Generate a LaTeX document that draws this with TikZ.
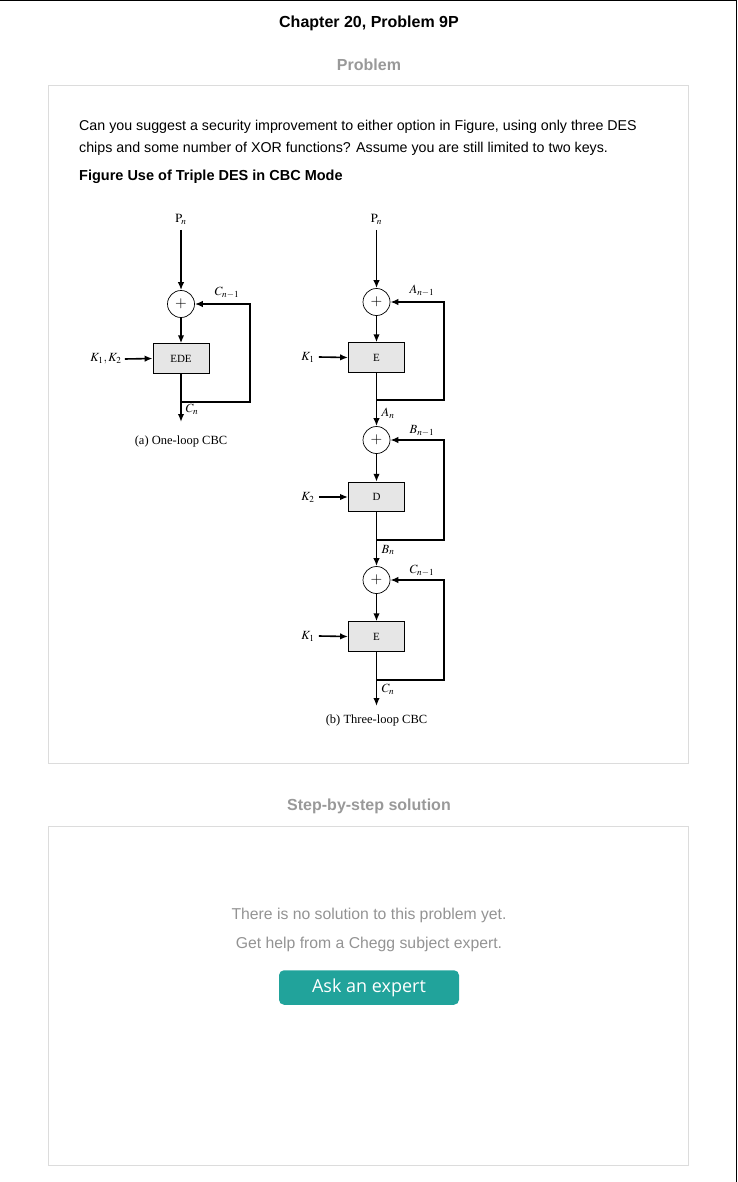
\documentclass[tikz,border=0pt]{standalone}
\usepackage{mathptmx}
\usepackage[no-math]{fontspec}
\setmainfont{Liberation Sans}
\newfontfamily\serifface{Liberation Serif}
\newfontfamily\btnface{Open Sans}
\usetikzlibrary{arrows.meta}
\definecolor{hdgray}{HTML}{999999}
\definecolor{txtgray}{HTML}{939393}
\definecolor{panelline}{HTML}{DCDCDC}
\definecolor{btnteal}{HTML}{21A39B}
\definecolor{chipfill}{HTML}{E6E6E6}
\tikzset{
  chip/.style={draw=black, line width=0.9pt, fill=chipfill, minimum width=56, minimum height=29.5, inner sep=0, font=\serifface\fontsize{11}{12}\selectfont},
  xorgate/.style={circle, draw=black, line width=0.7pt, fill=white, minimum size=27, inner sep=0, font=\fontsize{15}{15}\selectfont},
  wire/.style={line width=1.6pt, line join=miter},
  arr/.style={wire, -{Latex[length=8pt,width=6.5pt]}},
  lbl/.style={inner sep=0, font=\fontsize{12.5}{14}\selectfont},
  figcaption/.style={inner sep=0, font=\serifface\fontsize{12.5}{14}\selectfont},
  panel/.style={draw=panelline, line width=1pt},
  heading/.style={inner sep=0, text=hdgray, font=\bfseries\fontsize{16}{18}\selectfont},
  bodytext/.style={inner sep=0, anchor=west, font=\fontsize{14.25}{16}\selectfont},
  graytext/.style={inner sep=0, text=txtgray, font=\fontsize{15.75}{18}\selectfont}
}
\begin{document}
\begin{tikzpicture}[x=1pt,y=-1pt]
\useasboundingbox (0,0) rectangle (738,1182);
% page frame (top and right)
\draw[line width=1.5pt] (0,0.75) -- (736.5,0.75) -- (736.5,1182);
% headings
\node[inner sep=0, font=\bfseries\fontsize{16}{18}\selectfont] (title) at (369,23.5) {Chapter 20, Problem 9P};
\node[heading] (probhd) at (369,65) {Problem};
\draw[panel] (48.5,85.5) rectangle (688.5,763.5);
\node[bodytext] (l1) at (79,126.5) {Can you suggest a security improvement to either option in Figure, using only three DES};
\node[bodytext] (l2) at (79,148.5) {chips and some number of XOR functions? Assume you are still limited to two keys.};
\node[bodytext, font=\bfseries\fontsize{14.5}{16}\selectfont] (figt) at (79,177) {Figure Use of Triple DES in CBC Mode};

% ---------- (a) one-loop CBC ----------
\node[lbl] (pa) at (181,219) {$\mathrm{P}_{\!n}$};
\node[xorgate] (xa) at (181,304) {$+$};
\node[chip] (ede) at (181,358.5) {EDE};
\node[lbl] (ka) at (106,359) {$K_1, K_2$};
\coordinate (pas) at (181,230);
\coordinate (ba) at (181,402);
\coordinate (ea) at (181,422);
\coordinate (ra1) at (250,402);
\coordinate (ra2) at (250,304);
\draw[arr] (pas) -- (xa.north);
\draw[arr] (xa.south) -- (ede.north);
\draw[arr] (ka.east) ++(3,0) -- (ede.west);
\draw[arr] (ede.south) -- (ea);
\draw[arr] (ba) -- (ra1) -- (ra2) -- (xa.east);
\node[lbl] (cna1) at (227,293) {$C_{n-1}$};
\node[lbl] (cna) at (192,409) {$C_n$};
\node[figcaption] (capa) at (181,441) {(a) One-loop CBC};

% ---------- (b) three-loop CBC ----------
\node[lbl] (pb) at (376.5,219) {$\mathrm{P}_{\!n}$};
\coordinate (pbs) at (376.5,230);
\node[xorgate] (x1) at (376.5,302) {$+$};
\node[chip] (e1) at (376.5,357.5) {E};
\node[lbl] (k1) at (308,357) {$K_1$};
\node[xorgate] (x2) at (376.5,440) {$+$};
\node[chip] (d2) at (376.5,497) {D};
\node[lbl] (k2) at (308,497) {$K_2$};
\node[xorgate] (x3) at (376.5,580) {$+$};
\node[chip] (e3) at (376.5,636.5) {E};
\node[lbl] (k3) at (308,636) {$K_1$};
\coordinate (b1) at (376.5,400);
\coordinate (b2) at (376.5,540);
\coordinate (b3) at (376.5,680);
\coordinate (eb) at (376.5,706);
\coordinate (r1a) at (444,400);
\coordinate (r1b) at (444,302);
\coordinate (r2a) at (444,540);
\coordinate (r2b) at (444,440);
\coordinate (r3a) at (444,680);
\coordinate (r3b) at (444,580);
\draw[arr] (pbs) -- (x1.north);
\draw[arr] (x1.south) -- (e1.north);
\draw[arr] (e1.south) -- (x2.north);
\draw[arr] (x2.south) -- (d2.north);
\draw[arr] (d2.south) -- (x3.north);
\draw[arr] (x3.south) -- (e3.north);
\draw[arr] (e3.south) -- (eb);
\draw[arr] (k1.east) ++(4,0) -- (e1.west);
\draw[arr] (k2.east) ++(4,0) -- (d2.west);
\draw[arr] (k3.east) ++(4,0) -- (e3.west);
\draw[arr] (b1) -- (r1a) -- (r1b) -- (x1.east);
\draw[arr] (b2) -- (r2a) -- (r2b) -- (x2.east);
\draw[arr] (b3) -- (r3a) -- (r3b) -- (x3.east);
\node[lbl] (an1) at (422,291) {$A_{n-1}$};
\node[lbl] (an) at (388,413) {$A_n$};
\node[lbl] (bn1) at (422,431) {$B_{n-1}$};
\node[lbl] (bn) at (388,550) {$B_n$};
\node[lbl] (cn1) at (422,571) {$C_{n-1}$};
\node[lbl] (cn) at (388,689) {$C_n$};
\node[figcaption] (capb) at (376.5,720) {(b) Three-loop CBC};

% ---------- solution panel ----------
\node[heading] (stephd) at (369,806) {Step-by-step solution};
\draw[panel] (48.5,826.5) rectangle (688.5,1165.5);
\node[graytext] (ns1) at (369,915.5) {There is no solution to this problem yet.};
\node[graytext] (ns2) at (369,944.5) {Get help from a Chegg subject expert.};
\node[fill=btnteal, rounded corners=5pt, minimum width=180, minimum height=34.5, inner sep=0, text=white, font=\btnface\fontsize{18}{22}\selectfont] (btn) at (369,987.5) {Ask an expert};
\end{tikzpicture}
\end{document}
